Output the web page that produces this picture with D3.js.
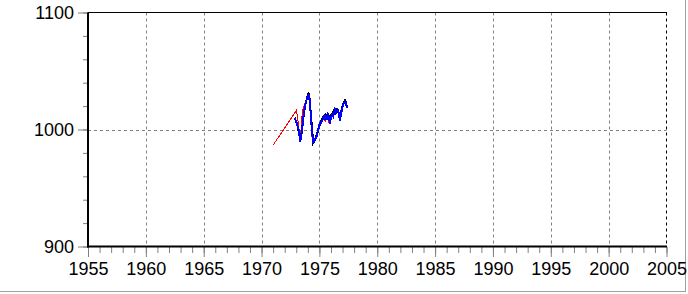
<!DOCTYPE html>
<html>
<head>
<meta charset="utf-8">
<script src="https://cdn.jsdelivr.net/npm/d3@7"></script>
<style>
  body { margin: 0; background: #fff; }
  svg { display: block; }
  text { font-family: "Liberation Sans", Arial, sans-serif; font-size: 18px; fill: #000; }
</style>
</head>
<body>
<svg id="chart" width="688" height="294"></svg>
<script>
// series: [decimal year, value]
const redSeries = [
    [1971.00, 986.6], [1973.00, 1016.2], [1973.08, 1012.7], [1973.17, 1005.8],
    [1973.25, 998.0], [1973.33, 994.0], [1973.42, 1000.0], [1973.50, 1012.0],
    [1973.58, 1017.0], [1973.75, 1022.0], [1973.92, 1027.0], [1974.08, 1028.0],
    [1974.17, 1020.0], [1974.25, 1008.0], [1974.33, 996.0], [1974.42, 990.0],
    [1974.58, 991.0], [1974.75, 995.0], [1974.92, 1003.0], [1975.08, 1006.0],
    [1975.25, 1009.0], [1975.42, 1009.0], [1975.50, 1006.6], [1975.58, 1012.0],
    [1975.75, 1011.0], [1975.83, 1006.0], [1976.00, 1011.0], [1976.17, 1012.0],
    [1976.33, 1016.0], [1976.50, 1015.0], [1976.67, 1015.2], [1976.83, 1011.0],
    [1977.00, 1019.0], [1977.17, 1023.0], [1977.33, 1020.0]
]

const blackSeries = [
    [1972.86, 1010.0], [1973.08, 1004.5], [1973.29, 994.5], [1973.34, 989.0],
    [1973.52, 1002.0], [1973.75, 1020.0], [1973.95, 1027.5], [1974.05, 1031.0],
    [1974.12, 1030.5], [1974.27, 1011.5], [1974.47, 988.5], [1974.61, 990.5],
    [1974.87, 998.5], [1975.13, 1006.5], [1975.39, 1012.0], [1975.56, 1013.0],
    [1975.82, 1011.0], [1976.06, 1012.5], [1976.34, 1017.5], [1976.57, 1017.5],
    [1976.77, 1008.5], [1976.97, 1019.5], [1977.21, 1025.0], [1977.35, 1020.5],
    [1977.44, 1019.0]
]

const blueSeries = [
    [1972.86, 1009.8], [1973.00, 1006.9], [1973.08, 1004.1], [1973.21, 999.8],
    [1973.29, 994.1], [1973.34, 989.8], [1973.43, 994.1], [1973.52, 1001.5],
    [1973.62, 1010.9], [1973.75, 1019.5], [1973.90, 1025.5], [1974.01, 1028.9],
    [1974.10, 1029.3], [1974.18, 1022.9], [1974.27, 1010.9], [1974.35, 999.8],
    [1974.42, 992.9], [1974.47, 989.5], [1974.61, 991.2], [1974.76, 994.1],
    [1974.87, 998.3], [1974.96, 1002.6], [1975.05, 1005.8], [1975.13, 1005.8],
    [1975.19, 1006.9], [1975.28, 1008.4], [1975.39, 1011.2], [1975.48, 1008.4],
    [1975.56, 1012.6], [1975.65, 1008.4], [1975.74, 1012.6], [1975.82, 1010.1],
    [1975.91, 1004.9], [1976.00, 1010.1], [1976.11, 1012.6], [1976.19, 1011.2],
    [1976.34, 1016.9], [1976.43, 1014.3], [1976.57, 1016.9], [1976.69, 1014.3],
    [1976.77, 1007.5], [1976.86, 1012.6], [1976.97, 1018.6], [1977.06, 1021.2],
    [1977.21, 1023.8], [1977.27, 1023.8], [1977.35, 1019.7], [1977.44, 1018.6]
]

const xMajorTicks = [1955, 1960, 1965, 1970, 1975, 1980, 1985, 1990, 1995, 2000, 2005]
const yMajorTicks = [900, 1000, 1100]

const svg = d3.select("#chart")

const x = d3.scaleLinear().domain([1955, 2005]).range([88, 666.5])
const y = d3.scaleLinear().domain([900, 1100]).range([246.5, 12.5])

// outer panel edge
svg.append("line").attr("x1", 685.5).attr("x2", 685.5).attr("y1", 0).attr("y2", 292)
    .attr("stroke", "#a0a0a0")
svg.append("line").attr("x1", 0).attr("x2", 686).attr("y1", 291.5).attr("y2", 291.5)
    .attr("stroke", "#a0a0a0")

// grid
const grid = svg.append("g").attr("stroke", "#808080").attr("stroke-dasharray", "3,3")
grid.selectAll("line.gx")
    .data(xMajorTicks.filter(d => d > 1955 && d < 2005))
    .join("line")
    .attr("x1", d => Math.round(x(d)) + 0.5).attr("x2", d => Math.round(x(d)) + 0.5)
    .attr("y1", y(1100)).attr("y2", y(900))
grid.append("line")
    .attr("x1", x(1955)).attr("x2", x(2005))
    .attr("y1", Math.round(y(1000)) + 0.5).attr("y2", Math.round(y(1000)) + 0.5)

// top and right frame
svg.append("line").attr("x1", x(1955)).attr("x2", x(2005) + 0.5)
    .attr("y1", y(1100)).attr("y2", y(1100)).attr("stroke", "#000")
svg.append("line").attr("x1", x(2005)).attr("x2", x(2005))
    .attr("y1", y(1100)).attr("y2", y(900))
    .attr("stroke", "#000").attr("stroke-dasharray", "3,3")

// axes
const xAxis = d3.axisBottom(x).tickValues(xMajorTicks).tickFormat(d3.format("d"))
    .tickSize(10).tickPadding(5)
const xAxisMinor = d3.axisBottom(x).tickValues(d3.range(1955, 2006)).tickFormat("")
    .tickSize(6)
const yAxis = d3.axisLeft(y).tickValues(yMajorTicks).tickFormat(d3.format("d"))
    .tickSize(10).tickPadding(4)
const yAxisMinor = d3.axisLeft(y).tickValues(d3.range(900, 1101, 20)).tickFormat("")
    .tickSize(5)

function styleAxis(g) {
    g.select(".domain").remove()
    g.selectAll(".tick line").attr("stroke", "#808080")
    g.selectAll(".tick text").attr("font-size", null).attr("font-family", null)
}

svg.append("g").attr("transform", "translate(0,247)").call(xAxisMinor).call(styleAxis)
svg.append("g").attr("transform", "translate(0,247)").call(xAxis).call(styleAxis)
svg.append("g").attr("transform", "translate(88,0)").call(yAxisMinor).call(styleAxis)
svg.append("g").attr("transform", "translate(88,0)").call(yAxis).call(styleAxis)

// thick left and bottom axis lines
svg.append("line").attr("x1", 88).attr("x2", 88).attr("y1", y(1100)).attr("y2", 247.5)
    .attr("stroke", "#000").attr("stroke-width", 2)
svg.append("line").attr("x1", 87).attr("x2", x(2005) + 0.5).attr("y1", 246.5).attr("y2", 246.5)
    .attr("stroke", "#000").attr("stroke-width", 2)

// series, drawn without antialiasing like the original
const line = d3.line().x(d => x(d[0])).y(d => y(d[1]))

svg.append("path").datum(redSeries).attr("d", line)
    .attr("fill", "none").attr("stroke", "#ff0000").attr("stroke-width", 1)
    .attr("shape-rendering", "crispEdges")
svg.append("path").datum(blackSeries).attr("d", line)
    .attr("fill", "none").attr("stroke", "#000").attr("stroke-width", 2)
    .attr("shape-rendering", "crispEdges")
svg.append("path").datum(blueSeries).attr("d", line)
    .attr("fill", "none").attr("stroke", "#0000ff").attr("stroke-width", 2)
    .attr("shape-rendering", "crispEdges")
</script>
</body>
</html>
